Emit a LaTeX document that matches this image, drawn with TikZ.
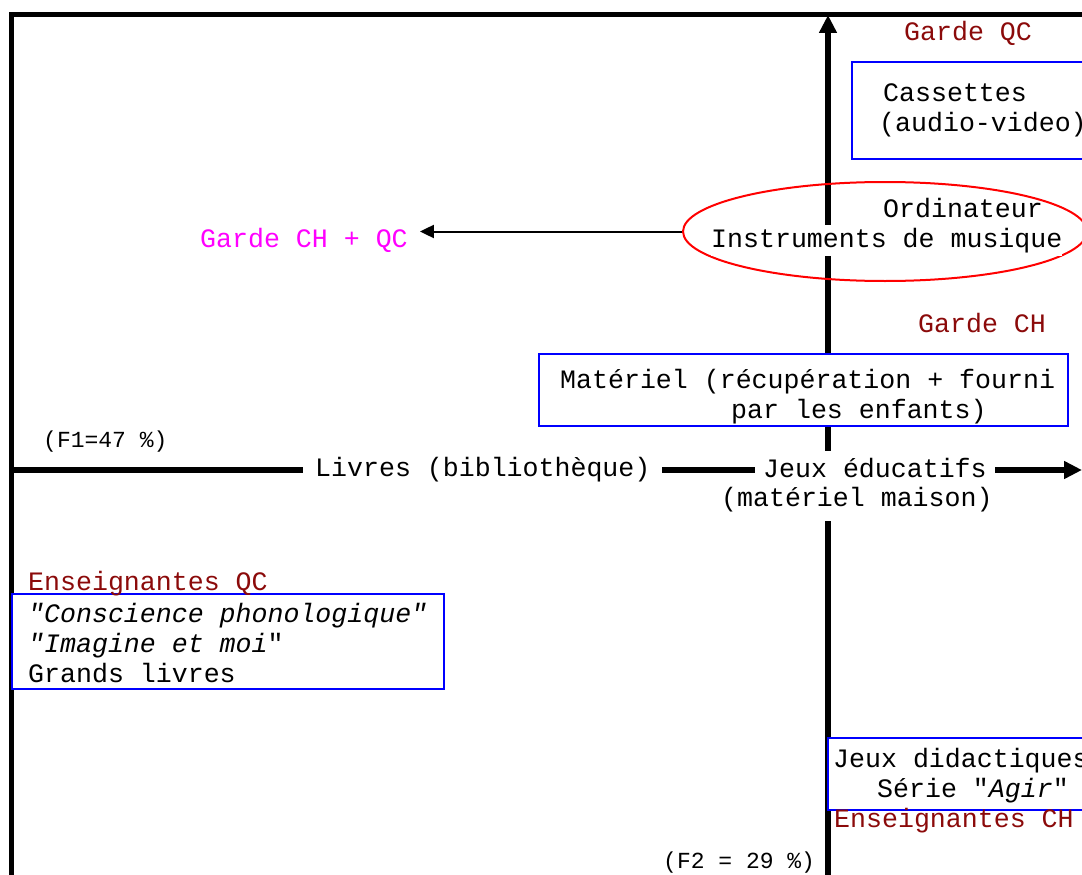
\documentclass[tikz,border=0pt]{standalone}
\usepackage{fontspec}
\setmainfont{Liberation Mono}[Ligatures=TeXOff]
\usetikzlibrary{arrows.meta,shapes.geometric}
\definecolor{labelred}{RGB}{139,10,10}
\definecolor{boxblue}{RGB}{0,0,255}
\definecolor{pinklabel}{RGB}{255,0,255}
\begin{document}
\begin{tikzpicture}[x=1pt,y=-1pt,
  big/.style={font=\fontsize{26.6}{30}\selectfont, inner sep=0pt, anchor=base west},
  small/.style={font=\fontsize{23}{26}\selectfont, inner sep=0pt, anchor=base west},
  lbl/.style={big, text=labelred},
  box/.style={draw=boxblue, line width=2pt, fill=white, rectangle, inner sep=0pt},
  axis/.style={line width=5.5pt, -{Triangle[length=18pt,width=17pt]}},
  conn/.style={line width=2pt, -{Triangle[length=14pt,width=13pt]}}
]
\useasboundingbox (0,0) rectangle (1082,875);
\clip (0,0) rectangle (1082,875);

% outer frame (top and left sides)
\coordinate (fbl) at (11,875);
\coordinate (ftl) at (11,14.5);
\coordinate (ftr) at (1082,14.5);
\draw[line width=5pt, line join=miter] (fbl) -- (ftl) -- (ftr);

% factor axes
\coordinate (xstart) at (11,470);
\coordinate (xend) at (1082,470);
\coordinate (ystart) at (828,875);
\coordinate (yend) at (828,15);
\draw[axis] (xstart) -- (xend);
\draw[axis] (ystart) -- (yend);

% boxes
\node[box, minimum width=248pt, minimum height=97pt] (cassbox) at (976,110.5) {};
\node[draw=red, line width=2pt, ellipse, minimum width=404pt, minimum height=99pt, inner sep=0pt] (ell) at (885,231.5) {};
\node[box, minimum width=529pt, minimum height=72pt] (matbox) at (803.5,390) {};
\node[box, minimum width=432pt, minimum height=95pt] (ensbox) at (228,641.5) {};
\node[box, minimum width=272pt, minimum height=72pt] (jeubox) at (964,774) {};

% upper right quadrant
\node[lbl] (gqc) at (904,41) {Garde QC};
\node[big] (cass1) at (883,102) {Cassettes};
\node[big] (cass2) at (879,131) {(audio-video)};
\node[big] (ordi) at (883,217) {Ordinateur};
\node[big, fill=white, inner xsep=0pt, inner ysep=3pt] (instr) at (711,247) {Instruments de musique};
\node[big, text=pinklabel] (gchqc) at (200,247) {Garde CH + QC};
\draw[conn, shorten >=12pt] (ell.west) -- (ell.west -| gchqc.east);
\node[lbl] (gch) at (918,332) {Garde CH};
\node[big] (mat1) at (560,388) {Matériel (récupération + fourni};
\node[big] (mat2) at (731,418) {par les enfants)};

% axis labels
\node[small] (f1) at (43,447) {(F1=47 \%)};
\node[big, fill=white, inner xsep=12pt, inner ysep=6pt] (livres) at (303,476) {Livres (bibliothèque)};
\node[big, fill=white, inner xsep=8pt, inner ysep=7pt] (jeux1) at (755,477) {Jeux éducatifs};
\node[big, fill=white, inner xsep=8pt, inner ysep=9pt] (jeux2) at (713,506) {(matériel maison)};
\node[small] (f2) at (663,868) {(F2 = 29 \%)};

% lower half
\node[lbl] (ensqc) at (28,590) {Enseignantes QC};
\node[big] (ens1) at (28,622) {\textit{"Conscience phonologique"}};
\node[big] (ens2) at (28,652) {\textit{"Imagine et moi}"};
\node[big] (ens3) at (28,682) {Grands livres};
\node[big] (jd1) at (833,767) {Jeux didactiques};
\node[big] (jd2) at (877,797) {Série "\textit{Agir}"};
\node[lbl] (ensch) at (834,827) {Enseignantes CH};
\end{tikzpicture}
\end{document}
